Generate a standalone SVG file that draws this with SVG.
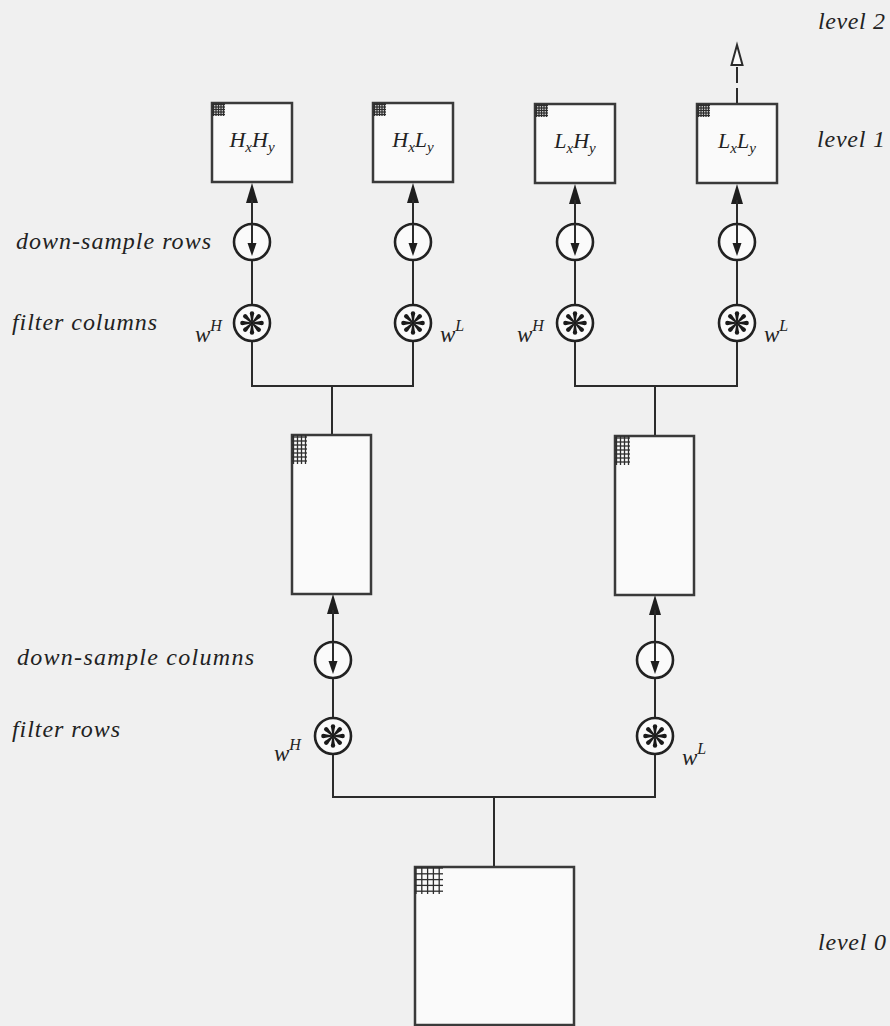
<svg xmlns="http://www.w3.org/2000/svg" width="890" height="1026" viewBox="0 0 890 1026">
<style>
.ln{stroke:#2b2b2b;stroke-width:2;fill:none}
.box{stroke:#3a3a3a;stroke-width:2.5;fill:#fafafa}
.circ{stroke:#222;stroke-width:2.6;fill:#fafafa}
.ah{fill:#1e1e1e;stroke:none}
.grid line{stroke:#2e2e2e;stroke-width:1.3}
.lbl{font-family:"Liberation Serif",serif;font-style:italic;font-size:24px;fill:#222}
.bx{font-family:"Liberation Serif",serif;font-style:italic;font-size:22px;fill:#222}
.sub{font-size:15px}
.w{font-family:"Liberation Serif",serif;font-style:italic;font-size:23px;fill:#222}
.sup{font-size:16px}
</style>
<defs>
<path id="upTri" class="ah" d="M0,0 L-6,20 L6,20 Z"/>
<g id="aster" fill="#1a1a1a">
<g id="spoke"><path d="M-0.6,0 L-1.9,-9 L1.9,-9 L0.6,0 Z"/><circle cx="0" cy="-9.6" r="2.2"/></g>
<use href="#spoke" transform="rotate(45)"/>
<use href="#spoke" transform="rotate(90)"/>
<use href="#spoke" transform="rotate(135)"/>
<use href="#spoke" transform="rotate(180)"/>
<use href="#spoke" transform="rotate(225)"/>
<use href="#spoke" transform="rotate(270)"/>
<use href="#spoke" transform="rotate(315)"/>
</g>
<g id="down">
<line x1="0" y1="-18" x2="0" y2="2" stroke="#2b2b2b" stroke-width="2"/>
<path class="ah" d="M0,14 L-4.5,1 L4.5,1 Z"/>
</g>
<g id="grid1" class="grid">
<line x1="1.5" y1="0" x2="1.5" y2="13"/><line x1="4" y1="0" x2="4" y2="13"/><line x1="6.5" y1="0" x2="6.5" y2="13"/><line x1="9" y1="0" x2="9" y2="13"/><line x1="11.5" y1="0" x2="11.5" y2="13"/>
<line x1="0" y1="1.5" x2="13" y2="1.5"/><line x1="0" y1="4" x2="13" y2="4"/><line x1="0" y1="6.5" x2="13" y2="6.5"/><line x1="0" y1="9" x2="13" y2="9"/><line x1="0" y1="11.5" x2="13" y2="11.5"/>
</g>
<g id="grid2" class="grid">
<line x1="1.5" y1="0" x2="1.5" y2="29"/><line x1="5.5" y1="0" x2="5.5" y2="29"/><line x1="9.5" y1="0" x2="9.5" y2="29"/><line x1="13.5" y1="0" x2="13.5" y2="29"/>
<line x1="0" y1="2" x2="15" y2="2"/><line x1="0" y1="6" x2="15" y2="6"/><line x1="0" y1="10" x2="15" y2="10"/><line x1="0" y1="14" x2="15" y2="14"/><line x1="0" y1="18" x2="15" y2="18"/><line x1="0" y1="22" x2="15" y2="22"/><line x1="0" y1="26" x2="15" y2="26"/>
</g>
<g id="grid3" class="grid" style="stroke-width:1.6">
<line x1="1" y1="0" x2="1" y2="27"/><line x1="6.8" y1="0" x2="6.8" y2="27"/><line x1="12.6" y1="0" x2="12.6" y2="27"/><line x1="18.4" y1="0" x2="18.4" y2="27"/><line x1="24.2" y1="0" x2="24.2" y2="27"/>
<line x1="0" y1="1" x2="28" y2="1"/><line x1="0" y1="6.8" x2="28" y2="6.8"/><line x1="0" y1="12.6" x2="28" y2="12.6"/><line x1="0" y1="18.4" x2="28" y2="18.4"/><line x1="0" y1="24.2" x2="28" y2="24.2"/>
</g>
</defs>
<rect x="0" y="0" width="890" height="1026" fill="#f0f0f0"/>

<g id="connectors">
<g id="col-top">
<use href="#upTri" x="252" y="183"/><line class="ln" x1="252" y1="200" x2="252" y2="224"/><line class="ln" x1="252" y1="260" x2="252" y2="305"/><line class="ln" x1="252" y1="341" x2="252" y2="386"/>
<use href="#upTri" x="413" y="183"/><line class="ln" x1="413" y1="200" x2="413" y2="224"/><line class="ln" x1="413" y1="260" x2="413" y2="305"/><line class="ln" x1="413" y1="341" x2="413" y2="386"/>
<use href="#upTri" x="575" y="184"/><line class="ln" x1="575" y1="200" x2="575" y2="224"/><line class="ln" x1="575" y1="260" x2="575" y2="305"/><line class="ln" x1="575" y1="341" x2="575" y2="386"/>
<use href="#upTri" x="737" y="184"/><line class="ln" x1="737" y1="200" x2="737" y2="224"/><line class="ln" x1="737" y1="260" x2="737" y2="305"/><line class="ln" x1="737" y1="341" x2="737" y2="386"/>
<path class="ln" d="M251,386 H414 M332,386 V435"/>
<path class="ln" d="M574,386 H738 M655,386 V436"/>
</g>
<path class="ln" d="M737,104 V66" stroke-dasharray="16,5"/>
<path d="M737,45 L731.5,65 L742.5,65 Z" fill="#fafafa" stroke="#2b2b2b" stroke-width="2"/>
<g id="col-mid">
<use href="#upTri" x="333" y="594"/><line class="ln" x1="333" y1="610" x2="333" y2="642"/><line class="ln" x1="333" y1="678" x2="333" y2="718"/><line class="ln" x1="333" y1="754" x2="333" y2="797"/>
<use href="#upTri" x="655" y="595"/><line class="ln" x1="655" y1="610" x2="655" y2="642"/><line class="ln" x1="655" y1="678" x2="655" y2="718"/><line class="ln" x1="655" y1="754" x2="655" y2="797"/>
<path class="ln" d="M332,797 H656 M494,797 V867"/>
</g>
</g>

<g id="box-HxHy">
<rect class="box" x="212" y="103" width="80" height="79"/>
<use href="#grid1" x="212" y="103"/>
<text class="bx" x="252" y="147" text-anchor="middle">H<tspan class="sub" dy="5">x</tspan><tspan dy="-5">H</tspan><tspan class="sub" dy="5">y</tspan></text>
</g>
<g id="box-HxLy">
<rect class="box" x="373" y="103" width="80" height="79"/>
<use href="#grid1" x="373" y="103"/>
<text class="bx" x="413" y="147" text-anchor="middle">H<tspan class="sub" dy="5">x</tspan><tspan dy="-5">L</tspan><tspan class="sub" dy="5">y</tspan></text>
</g>
<g id="box-LxHy">
<rect class="box" x="535" y="104" width="80" height="79"/>
<use href="#grid1" x="535" y="104"/>
<text class="bx" x="575" y="148" text-anchor="middle">L<tspan class="sub" dy="5">x</tspan><tspan dy="-5">H</tspan><tspan class="sub" dy="5">y</tspan></text>
</g>
<g id="box-LxLy">
<rect class="box" x="697" y="104" width="80" height="79"/>
<use href="#grid1" x="697" y="104"/>
<text class="bx" x="737" y="148" text-anchor="middle">L<tspan class="sub" dy="5">x</tspan><tspan dy="-5">L</tspan><tspan class="sub" dy="5">y</tspan></text>
</g>

<g id="ds-rows-1"><circle class="circ" cx="252" cy="242" r="18"/><use href="#down" x="252" y="242"/></g>
<g id="ds-rows-2"><circle class="circ" cx="413" cy="242" r="18"/><use href="#down" x="413" y="242"/></g>
<g id="ds-rows-3"><circle class="circ" cx="575" cy="242" r="18"/><use href="#down" x="575" y="242"/></g>
<g id="ds-rows-4"><circle class="circ" cx="737" cy="242" r="18"/><use href="#down" x="737" y="242"/></g>

<g id="fc-1"><circle class="circ" cx="252" cy="323" r="18"/><use href="#aster" x="252" y="323"/><text class="w" x="195" y="342">w<tspan class="sup" dy="-11">H</tspan></text></g>
<g id="fc-2"><circle class="circ" cx="413" cy="323" r="18"/><use href="#aster" x="413" y="323"/><text class="w" x="440" y="342">w<tspan class="sup" dy="-11">L</tspan></text></g>
<g id="fc-3"><circle class="circ" cx="575" cy="323" r="18"/><use href="#aster" x="575" y="323"/><text class="w" x="517" y="342">w<tspan class="sup" dy="-11">H</tspan></text></g>
<g id="fc-4"><circle class="circ" cx="737" cy="323" r="18"/><use href="#aster" x="737" y="323"/><text class="w" x="764" y="342">w<tspan class="sup" dy="-11">L</tspan></text></g>

<g id="box-mid-H">
<rect class="box" x="292" y="435" width="79" height="159"/>
<use href="#grid2" x="292" y="435"/>
</g>
<g id="box-mid-L">
<rect class="box" x="615" y="436" width="79" height="159"/>
<use href="#grid2" x="615" y="436"/>
</g>

<g id="ds-cols-1"><circle class="circ" cx="333" cy="660" r="18"/><use href="#down" x="333" y="660"/></g>
<g id="ds-cols-2"><circle class="circ" cx="655" cy="660" r="18"/><use href="#down" x="655" y="660"/></g>
<g id="fr-1"><circle class="circ" cx="333" cy="736" r="18"/><use href="#aster" x="333" y="736"/><text class="w" x="274" y="761">w<tspan class="sup" dy="-11">H</tspan></text></g>
<g id="fr-2"><circle class="circ" cx="655" cy="736" r="18"/><use href="#aster" x="655" y="736"/><text class="w" x="682" y="765">w<tspan class="sup" dy="-11">L</tspan></text></g>

<g id="box-level0">
<rect class="box" x="415" y="867" width="159" height="158"/>
<use href="#grid3" x="415" y="867"/>
</g>

<g id="labels">
<text class="lbl" x="818" y="29" textLength="67" lengthAdjust="spacing">level 2</text>
<text class="lbl" x="817" y="147" textLength="68" lengthAdjust="spacing">level 1</text>
<text class="lbl" x="818" y="950" textLength="68" lengthAdjust="spacing">level 0</text>
<text class="lbl" x="16" y="249" textLength="195" lengthAdjust="spacing">down-sample rows</text>
<text class="lbl" x="12" y="330" textLength="145" lengthAdjust="spacing">filter columns</text>
<text class="lbl" x="17" y="665" textLength="237" lengthAdjust="spacing">down-sample columns</text>
<text class="lbl" x="12" y="737" textLength="108" lengthAdjust="spacing">filter rows</text>
</g>
</svg>
